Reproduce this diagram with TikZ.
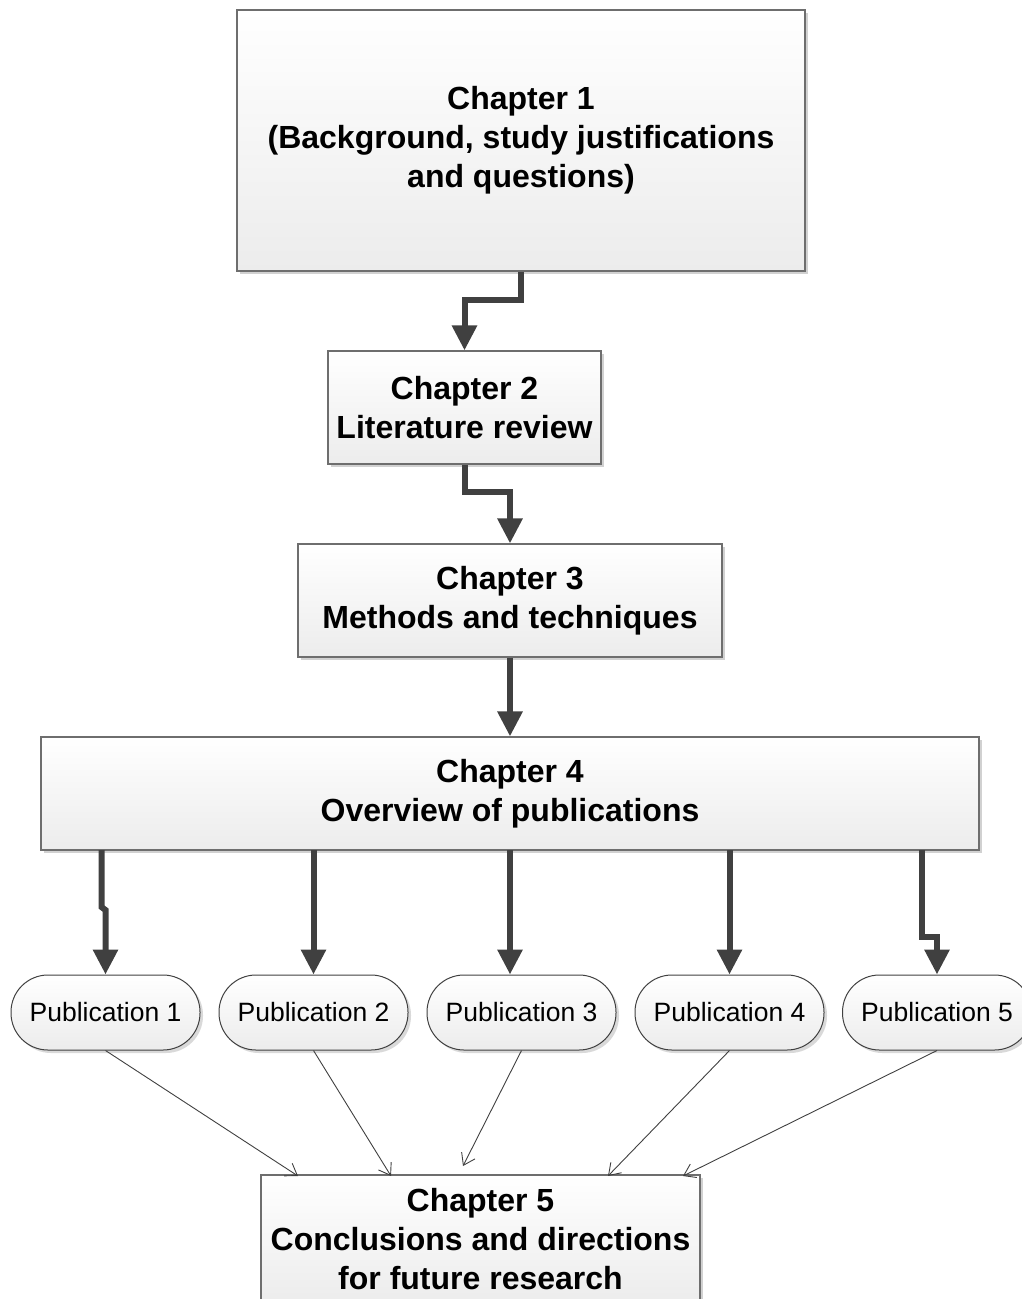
\documentclass[tikz,border=0pt]{standalone}
\usepackage{fontspec}
\setmainfont{Liberation Sans}
\usetikzlibrary{arrows.meta,shadows,calc}
\definecolor{arrowgray}{RGB}{64,64,64}
\definecolor{boxline}{RGB}{110,110,110}
\definecolor{fillbot}{RGB}{236,236,236}
\tikzset{
  chap/.style={draw=boxline, line width=1.2pt, top color=white, bottom color=fillbot,
    drop shadow={shadow xshift=3pt, shadow yshift=-3pt, fill=black!18, opacity=1},
    align=center, inner sep=0pt, font=\fontsize{32}{39}\selectfont\bfseries},
  pub/.style={draw=black!75, line width=1pt, rounded corners=37pt,
    minimum width=189pt, minimum height=75pt, inner sep=0pt,
    top color=white, bottom color=fillbot,
    drop shadow={shadow xshift=3pt, shadow yshift=-3pt, fill=black!15, opacity=1},
    font=\fontsize{26.5}{30}\selectfont},
  bigarrow/.style={draw=arrowgray, line width=6pt,
    -{Triangle[length=25pt,width=24pt,fill=arrowgray]}},
  thinarrow/.style={draw=arrowgray, line width=0.9pt,
    -{Straight Barb[length=11pt,width=15pt]}}
}
\begin{document}
\begin{tikzpicture}[x=1pt,y=1pt]
\useasboundingbox (0,0) rectangle (1021,-1299);
% chapter boxes
\node[chap, minimum width=568pt, minimum height=261pt] (c1) at (521,-140.5)
  {Chapter 1\\(Background, study justifications\\and questions)};
\node[chap, minimum width=273pt, minimum height=113pt] (c2) at (464.5,-407.5)
  {Chapter 2\\Literature review};
\node[chap, minimum width=424pt, minimum height=113pt] (c3) at (510,-600.5)
  {Chapter 3\\Methods and techniques};
\node[chap, minimum width=938pt, minimum height=113pt] (c4) at (510,-793.5)
  {Chapter 4\\Overview of publications};
\node[chap, minimum width=439pt, minimum height=128pt] (c5) at (480.5,-1239)
  {Chapter 5\\Conclusions and directions\\for future research};
% publications
\node[pub] (p1) at (105.5,-1012.5) {Publication 1};
\node[pub] (p2) at (313.5,-1012.5) {Publication 2};
\node[pub] (p3) at (521.5,-1012.5) {Publication 3};
\node[pub] (p4) at (729.5,-1012.5) {Publication 4};
\node[pub] (p5) at (937,-1012.5) {Publication 5};
% thick connectors
\draw[bigarrow] (c1.south) -- (521,-300) -| (c2.north);
\draw[bigarrow] (c2.south) -- (464.5,-492) -| (c3.north);
\draw[bigarrow] (c3.south) -- (c4.north);
\coordinate (s1) at (101.5,-850);
\coordinate (s2) at (313.5,-850);
\coordinate (s3) at (510,-850);
\coordinate (s4) at (729.5,-850);
\coordinate (s5) at (922,-850);
\draw[bigarrow] (s1) -- (101.5,-907) -- (105.5,-910) -- (p1.north);
\draw[bigarrow] (s2) -- (p2.north);
\draw[bigarrow] (s3) -- (s3 |- p3.north);
\draw[bigarrow] (s4) -- (p4.north);
\draw[bigarrow] (s5) -- (922,-937) -| (p5.north);
% thin connectors
\coordinate (e1) at (298,-1176);
\coordinate (e2) at (391,-1176);
\coordinate (e3) at (463,-1166);
\coordinate (e4) at (608,-1176);
\coordinate (e5) at (683,-1176);
\draw[thinarrow] (p1.south) -- (e1);
\draw[thinarrow] (p2.south) -- (e2);
\draw[thinarrow] (p3.south) -- (e3);
\draw[thinarrow] (p4.south) -- (e4);
\draw[thinarrow] (p5.south) -- (e5);
\end{tikzpicture}
\end{document}
